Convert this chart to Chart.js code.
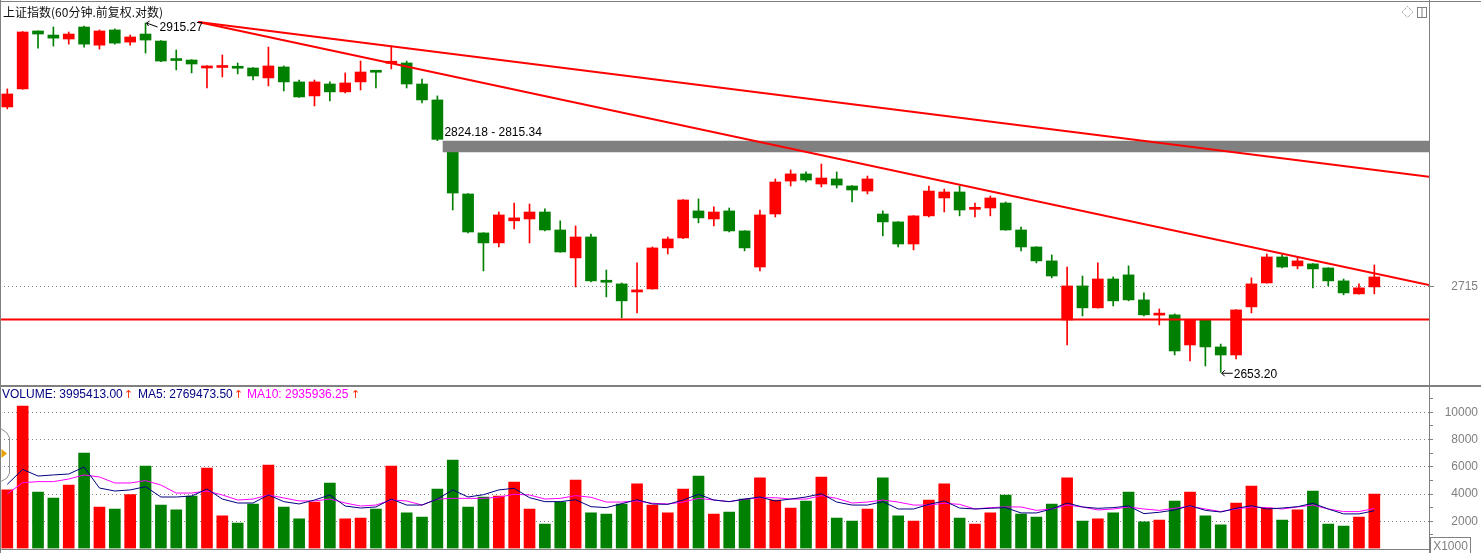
<!DOCTYPE html>
<html>
<head>
<meta charset="utf-8">
<script src="https://cdn.jsdelivr.net/npm/chart.js@4.4.0/dist/chart.umd.min.js"></script>
<style>
  html, body { margin: 0; padding: 0; background: #fff; }
  body { width: 1481px; height: 553px; position: relative; overflow: hidden; font-family: Arial, "Liberation Sans", sans-serif; }
  canvas { position: absolute; left: 0; }
  #price { top: 0; }
  #volume { top: 386px; }
  .rule { position: absolute; background: #808080; }
  #title { position: absolute; left: 3px; top: 4px; font: 12px/16px "Noto Sans CJK SC", sans-serif; color: #111; white-space: nowrap; }
  .leg { position: absolute; top: 387px; font: 12px/15px Arial, "Liberation Sans", sans-serif; white-space: nowrap; }
  .up { color: #ff2a00; font-family: "DejaVu Sans", sans-serif; font-size: 11px; }
  #unit { position: absolute; left: 1430px; top: 537px; width: 39px; height: 16px; border: 1px solid #808080; border-bottom: none;
          font: 12px/16px Arial, "Liberation Sans", sans-serif; color: #808080; text-align: center; }
  svg { position: absolute; }
</style>
</head>
<body>
<canvas id="price" width="1481" height="386"></canvas>
<canvas id="volume" width="1481" height="167"></canvas>

<div class="rule" style="left:0;top:1px;width:1481px;height:1px"></div>
<div class="rule" style="left:0;top:385px;width:1481px;height:2px"></div>
<div class="rule" style="left:0;top:549px;width:1430px;height:1px"></div>
<div class="rule" style="left:0;top:0;width:1px;height:553px"></div>
<div class="rule" style="left:1429px;top:0;width:1px;height:553px"></div>

<div id="title">上证指数(60分钟.前复权.对数)</div>

<div class="leg" style="left:2px;color:#000080">VOLUME: 3995413.00</div>
<div class="leg up" style="left:124px">↑</div>
<div class="leg" style="left:138px;color:#000080">MA5: 2769473.50</div>
<div class="leg up" style="left:234px">↑</div>
<div class="leg" style="left:247px;color:#ff00ff">MA10: 2935936.25</div>
<div class="leg up" style="left:351px">↑</div>

<div id="unit">X1000</div>

<svg style="left:0;top:426px" width="12" height="58">
  <polyline points="0,2 7,7 9.5,12 9.5,47 7,52 0,56" fill="none" stroke="#909090" stroke-width="1"/>
  <polygon points="1.5,23 7,27.5 1.5,32" fill="#e8a000"/>
</svg>
<svg style="left:1400px;top:5px" width="30" height="16">
  <polygon points="7.5,1.5 13,7 7.5,12.5 2,7" fill="none" stroke="#808080" stroke-dasharray="1,1"/>
  <rect x="17.5" y="2.5" width="9" height="10" fill="none" stroke="#808080"/>
  <line x1="22" y1="2.5" x2="22" y2="12.5" stroke="#808080"/>
</svg>

<script>
const RED = '#ff0000';
const GREEN = '#008000';

// 60-minute candles, oldest first
const opens = [
  2850.0, 2863.9, 2909.0, 2905.8, 2902.7, 2912.1, 2897.9, 2909.8, 2900.3, 2906.6,
  2901.1, 2886.3, 2886.3, 2880.1, 2880.5, 2880.3, 2880.1, 2872.4, 2880.9, 2869.3,
  2858.5, 2867.7, 2861.6, 2869.3, 2877.2, 2883.8, 2884.0, 2867.7, 2855.4, 2815.34,
  2783.9, 2754.8, 2747.4, 2763.8, 2765.2, 2770.4, 2757.0, 2736.3, 2751.8, 2718.8,
  2717.2, 2711.3, 2713.5, 2743.7, 2751.1, 2771.2, 2765.2, 2771.2, 2756.3, 2729.6,
  2768.9, 2793.6, 2799.0, 2791.4, 2795.2, 2789.9, 2786.1, 2768.9, 2763.0, 2746.6,
  2767.5, 2780.9, 2785.4, 2772.4, 2773.4, 2777.1, 2757.0, 2744.4, 2734.1, 2690.9,
  2715.7, 2699.7, 2720.8, 2723.8, 2705.5, 2694.4, 2694.6, 2672.8, 2690.9, 2671.4,
  2665.6, 2700.4, 2717.9, 2737.0, 2730.4, 2731.9, 2728.9, 2719.4, 2709.9, 2715.0
];
const highs = [
  2863.9, 2908.6, 2909.2, 2912.1, 2908.2, 2912.9, 2909.8, 2910.6, 2905.8, 2915.27,
  2901.5, 2894.1, 2886.6, 2881.9, 2890.2, 2884.0, 2880.4, 2896.4, 2881.7, 2870.8,
  2870.8, 2869.3, 2876.3, 2885.5, 2877.4, 2897.2, 2885.5, 2871.6, 2858.5, 2815.34,
  2784.2, 2755.0, 2770.4, 2777.1, 2776.4, 2772.7, 2763.8, 2760.0, 2754.0, 2727.4,
  2717.9, 2732.6, 2744.4, 2751.8, 2779.7, 2780.2, 2774.2, 2773.4, 2756.5, 2771.9,
  2795.2, 2802.0, 2800.5, 2806.5, 2800.5, 2790.2, 2797.4, 2771.2, 2763.2, 2767.7,
  2789.9, 2787.6, 2789.9, 2777.1, 2782.4, 2777.9, 2759.2, 2744.6, 2738.5, 2729.6,
  2723.0, 2732.6, 2722.3, 2730.4, 2710.6, 2698.9, 2695.3, 2691.1, 2691.1, 2673.5,
  2698.4, 2721.6, 2739.2, 2738.5, 2737.0, 2732.1, 2729.1, 2720.8, 2717.2, 2731.1
];
const lows = [
  2848.5, 2863.6, 2895.6, 2897.2, 2898.7, 2896.4, 2894.8, 2898.7, 2897.9, 2891.7,
  2885.1, 2878.6, 2876.3, 2864.6, 2873.2, 2875.5, 2870.8, 2866.2, 2862.3, 2857.4,
  2850.8, 2854.6, 2860.8, 2863.1, 2864.6, 2879.4, 2864.6, 2853.1, 2824.18, 2771.9,
  2754.8, 2726.7, 2744.4, 2757.7, 2747.4, 2756.3, 2740.5, 2715.0, 2718.6, 2707.7,
  2692.4, 2696.0, 2713.3, 2739.2, 2750.5, 2762.3, 2760.0, 2755.5, 2741.5, 2726.7,
  2766.7, 2789.9, 2792.9, 2789.2, 2788.4, 2777.9, 2783.9, 2752.6, 2744.4, 2742.2,
  2766.7, 2770.4, 2767.5, 2766.7, 2767.5, 2756.8, 2741.5, 2732.6, 2721.6, 2672.8,
  2693.8, 2699.5, 2701.1, 2704.8, 2693.8, 2687.3, 2665.6, 2661.3, 2657.7, 2653.20,
  2662.7, 2696.0, 2717.7, 2728.9, 2728.2, 2714.3, 2715.7, 2709.2, 2709.7, 2709.9
];
const closes = [
  2860.0, 2908.2, 2906.6, 2903.4, 2906.6, 2898.7, 2909.0, 2899.5, 2904.3, 2901.9,
  2885.5, 2885.9, 2883.2, 2881.7, 2880.9, 2879.9, 2873.9, 2881.7, 2869.3, 2857.7,
  2869.3, 2861.6, 2868.5, 2877.0, 2876.8, 2884.0, 2867.7, 2855.4, 2825.2, 2784.6,
  2755.5, 2747.4, 2768.2, 2766.0, 2770.4, 2757.0, 2740.7, 2751.8, 2719.4, 2718.4,
  2704.8, 2712.8, 2743.7, 2750.3, 2779.4, 2766.0, 2770.4, 2756.3, 2743.7, 2768.2,
  2792.9, 2799.0, 2794.4, 2795.9, 2790.6, 2786.9, 2795.2, 2763.0, 2746.6, 2767.5,
  2786.1, 2785.4, 2771.9, 2772.8, 2780.9, 2757.0, 2744.4, 2734.1, 2723.0, 2715.7,
  2699.7, 2720.8, 2704.8, 2705.5, 2694.6, 2694.8, 2668.5, 2690.9, 2671.4, 2665.6,
  2698.2, 2717.2, 2737.0, 2729.6, 2734.1, 2728.2, 2719.4, 2710.6, 2714.3, 2722.3
];

// volume in thousands (the axis is x1000)
const volumes = [
  4300, 10460, 4150, 3710, 4660, 7010, 3050, 2900, 3950, 6060,
  3190, 2830, 3850, 5910, 2390, 1870, 3270, 6130, 3050, 2170,
  3410, 4810, 2170, 2240, 2900, 6060, 2610, 2310, 4370, 6500,
  3050, 3780, 3850, 4880, 2900, 1800, 3410, 5030, 2610, 2530,
  3270, 4740, 3190, 2610, 4370, 5320, 2530, 2680, 3630, 5180,
  3560, 2970, 3490, 5250, 2240, 2020, 2900, 5180, 2390, 2020,
  3560, 4740, 2240, 1800, 2610, 3930, 2530, 2310, 3270, 5180,
  2020, 2170, 2610, 4150, 1950, 2090, 3490, 4150, 2390, 1730,
  3340, 4590, 2970, 2090, 2830, 4220, 1800, 1650, 2310, 3995.41
];
const ma5 = [
  4710, 5810, 5320, 5400, 5470, 5980, 4440, 4220, 4300, 4540,
  3780, 3780, 3850, 4370, 3630, 3340, 3340, 3930, 3440, 3270,
  3560, 3930, 3120, 2970, 3050, 3630, 3190, 3190, 3630, 4300,
  3780, 3950, 4300, 4420, 3730, 3440, 3440, 3580, 3070, 3000,
  3290, 3580, 3270, 3240, 3560, 3980, 3560, 3440, 3630, 3780,
  3490, 3630, 3780, 4020, 3410, 3190, 3190, 3440, 2900, 2900,
  3240, 3490, 2970, 2900, 2950, 3000, 2610, 2610, 2900, 3340,
  3050, 2950, 3000, 3120, 2560, 2660, 2830, 3140, 2800, 2680,
  2950, 3140, 2900, 2970, 3070, 3320, 2900, 2540, 2540, 2769.47
];
const ma10 = [
  4000, 4830, 4910, 4910, 5100, 5400, 5250, 4810, 4810, 4980,
  4660, 4070, 4070, 4220, 3930, 3560, 3630, 3930, 3710, 3490,
  3490, 3630, 3340, 3120, 3190, 3560, 3490, 3190, 3630, 3680,
  3680, 3680, 3770, 3980, 3930, 3630, 3680, 3880, 3760, 3410,
  3410, 3490, 3320, 3270, 3410, 3680, 3560, 3440, 3610, 3730,
  3730, 3630, 3630, 3880, 3680, 3340, 3410, 3560, 3410, 3190,
  3190, 3320, 3240, 2900, 3000, 3050, 3050, 2800, 2900, 3190,
  3050, 2830, 2900, 3050, 2900, 2800, 2950, 3100, 2900, 2710,
  2900, 3050, 3000, 2900, 3050, 3190, 2900, 2710, 2710, 2935.94
];

const priceTicks = [2715];
const volumeTicks = [1000, 2000, 3000, 4000, 5000, 6000, 7000, 8000, 9000, 10000, 11000];

// drawn studies: two falling trend lines, a support level and an unfilled gap
const trendStart = { x: 12.43, y: 2916.0 };
const trendEnds = [2796.9, 2716.4];
const supportLevel = 2691.3;
const gapTop = 2824.18;
const gapBottom = 2815.34;
const gapStart = 28.33;

// axis ranges
const X_MIN = -0.475;
const X_MAX = 92.56;
const PRICE_MIN = 2643.4;
const PRICE_MAX = 2933.4;
const VOL_MAX = 11930;

const idx = closes.map((c, i) => i);
const candleColors = closes.map((c, i) => (c >= opens[i] ? RED : GREEN));

function fixAxis(scale) {
  scale.width = 49;
  scale.paddingTop = 0;
  scale.paddingBottom = 0;
}

// labels for the highest / lowest candle and the gap
const markLabels = {
  id: 'markLabels',
  afterDatasetsDraw(chart) {
    const { ctx } = chart;
    const x = chart.scales.x;
    const y = chart.scales.y;
    const hi = highs.indexOf(Math.max(...highs));
    const lo = lows.indexOf(Math.min(...lows));

    ctx.save();
    ctx.font = '12px Arial, "Liberation Sans", sans-serif';
    ctx.fillStyle = '#000';
    ctx.strokeStyle = '#000';
    ctx.lineWidth = 1;
    ctx.textBaseline = 'middle';

    let px = x.getPixelForValue(hi);
    let py = y.getPixelForValue(highs[hi]);
    ctx.beginPath();
    ctx.moveTo(px + 1, py);
    ctx.lineTo(px + 12, py + 4);
    ctx.moveTo(px + 1, py);
    ctx.lineTo(px + 4, py - 2);
    ctx.moveTo(px + 1, py);
    ctx.lineTo(px + 3, py + 3);
    ctx.stroke();
    ctx.fillText(highs[hi].toFixed(2), px + 14, py + 5);

    px = x.getPixelForValue(lo);
    py = y.getPixelForValue(lows[lo]);
    ctx.beginPath();
    ctx.moveTo(px + 1, py + 1);
    ctx.lineTo(px + 12, py + 1);
    ctx.moveTo(px + 1, py + 1);
    ctx.lineTo(px + 4, py - 2);
    ctx.moveTo(px + 1, py + 1);
    ctx.lineTo(px + 4, py + 4);
    ctx.stroke();
    ctx.fillText(lows[lo].toFixed(2), px + 13, py + 2);

    px = x.getPixelForValue(gapStart);
    py = y.getPixelForValue(gapTop);
    ctx.fillText(gapTop.toFixed(2) + ' - ' + gapBottom.toFixed(2), px + 2, py - 8);
    ctx.restore();
  }
};

new Chart(document.getElementById('price'), {
  type: 'bar',
  data: {
    datasets: [
      {
        type: 'line', data: [trendStart, { x: X_MAX, y: trendEnds[0] }],
        borderColor: RED, borderWidth: 2, pointRadius: 0, order: 0
      },
      {
        type: 'line', data: [trendStart, { x: X_MAX, y: trendEnds[1] }],
        borderColor: RED, borderWidth: 2, pointRadius: 0, order: 0
      },
      {
        type: 'line', data: [{ x: X_MIN, y: supportLevel }, { x: X_MAX, y: supportLevel }],
        borderColor: RED, borderWidth: 2, pointRadius: 0, order: 0
      },
      {
        type: 'line', data: [{ x: gapStart, y: gapTop }, { x: X_MAX, y: gapTop }],
        borderWidth: 0, pointRadius: 0, fill: false, order: 1
      },
      {
        type: 'line', data: [{ x: gapStart, y: gapBottom }, { x: X_MAX, y: gapBottom }],
        borderWidth: 0, pointRadius: 0, fill: '-1', backgroundColor: '#808080', order: 1
      },
      {
        data: idx.map(i => ({ x: i, y: [opens[i], closes[i]] })),
        backgroundColor: candleColors, barThickness: 11, minBarLength: 2, grouped: false, order: 2
      },
      {
        data: idx.map(i => ({ x: i, y: [lows[i], highs[i]] })),
        backgroundColor: candleColors, barThickness: 1, grouped: false, order: 3
      }
    ]
  },
  options: {
    responsive: false,
    animation: false,
    events: [],
    layout: { padding: { left: 0, right: 3, top: 0, bottom: 0 } },
    plugins: { legend: { display: false }, tooltip: { enabled: false } },
    scales: {
      x: { type: 'linear', min: X_MIN, max: X_MAX, offset: false, display: false },
      y: {
        type: 'logarithmic',
        position: 'right',
        min: PRICE_MIN,
        max: PRICE_MAX,
        afterFit: fixAxis,
        afterBuildTicks(scale) { scale.ticks = priceTicks.map(v => ({ value: v })); },
        ticks: {
          callback: v => String(v),
          crossAlign: 'far',
          color: '#7f7f7f',
          font: { family: 'Arial, "Liberation Sans", sans-serif', size: 12 }
        },
        grid: { color: '#808080', tickColor: '#808080', tickLength: 5, lineWidth: 1 },
        border: { display: true, color: '#808080', width: 1, dash: [1, 3] }
      }
    }
  },
  plugins: [markLabels]
});

new Chart(document.getElementById('volume'), {
  type: 'bar',
  data: {
    datasets: [
      {
        type: 'line', data: idx.map(i => ({ x: i, y: ma5[i] })),
        borderColor: '#000080', borderWidth: 1, pointRadius: 0, order: 0
      },
      {
        type: 'line', data: idx.map(i => ({ x: i, y: ma10[i] })),
        borderColor: '#ff00ff', borderWidth: 1, pointRadius: 0, order: 1
      },
      {
        data: idx.map(i => ({ x: i, y: volumes[i] })),
        backgroundColor: candleColors, barThickness: 11, order: 2
      }
    ]
  },
  options: {
    responsive: false,
    animation: false,
    events: [],
    layout: { padding: { left: 0, right: 3, top: 0, bottom: 4.5 } },
    plugins: { legend: { display: false }, tooltip: { enabled: false } },
    scales: {
      x: { type: 'linear', min: X_MIN, max: X_MAX, offset: false, display: false },
      y: {
        position: 'right',
        min: 0,
        max: VOL_MAX,
        afterFit: fixAxis,
        afterBuildTicks(scale) { scale.ticks = volumeTicks.map(v => ({ value: v })); },
        ticks: {
          autoSkip: false,
          callback: v => (v % 2000 === 0 ? String(v) : ''),
          crossAlign: 'far',
          color: '#7f7f7f',
          font: { family: 'Arial, "Liberation Sans", sans-serif', size: 12 }
        },
        grid: {
          color: ctx => (ctx.tick && ctx.tick.value % 2000 === 0 ? '#808080' : 'rgba(0,0,0,0)'),
          tickColor: '#808080',
          tickLength: 4
        },
        border: { display: true, color: '#808080', width: 1, dash: [1, 3] }
      }
    }
  }
});
</script>
</body>
</html>
